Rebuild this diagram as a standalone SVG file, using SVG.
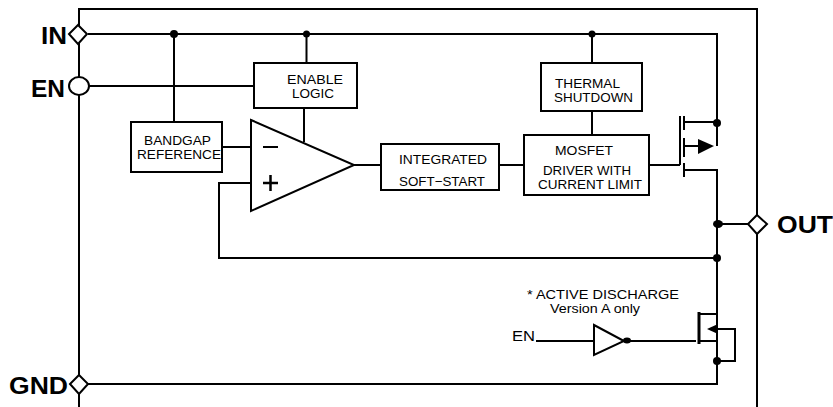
<svg xmlns="http://www.w3.org/2000/svg" width="833" height="407" viewBox="0 0 833 407">
<style>
.w{fill:none;stroke:#000;stroke-width:2}
.b{fill:#fff;stroke:#000;stroke-width:2}
.p{fill:#fff;stroke:#000;stroke-width:2}
.d{fill:#000;stroke:none}
text{font-family:"Liberation Sans",Arial,sans-serif;fill:#000}
.t{font-size:13px}
.l{font-size:24px;font-weight:bold}
</style>
<rect width="833" height="407" fill="#fff"/>
<g id="connectors">
<path class="w" d="M79 407V9H757V407"/>
<path class="w" d="M88 34H717V146"/>
<path class="w" d="M89 86H254"/>
<path class="w" d="M174 34V122M306.500 34V63M304 108V142M222 147H251M251 183H219V258H717"/>
<path class="w" d="M354 165H381M499 165H524M592 34V63M592 111V135M649 165H680"/>
<path class="w" d="M680 116V165M684 116V130M684 138V157M684 163V177M684 122H717M684 146H703M684 170H717V384H88"/>
<path class="w" d="M717 224H748"/>
<path class="w" d="M536 341H594M624 341H696M717 314H699M699 341H717M712 329H735V361H717"/>
<path d="M699 312V344" fill="none" stroke="#000" stroke-width="3"/>
<path class="d" d="M698 139L714 146L698 154Z"/>
<path class="d" d="M707 329L718 324V334Z"/>
<circle class="d" cx="174" cy="34" r="4"/>
<circle class="d" cx="306.500" cy="34" r="3.500"/>
<circle class="d" cx="592" cy="34" r="3.500"/>
<circle class="d" cx="717" cy="123" r="4"/>
<ellipse class="d" cx="718" cy="224" rx="5" ry="4"/>
<circle class="d" cx="717" cy="258" r="4"/>
<circle class="d" cx="717" cy="361" r="4"/>
<ellipse class="d" cx="627" cy="340.500" rx="4" ry="3"/>
</g>
<g id="pin-in"><path class="p" d="M78 25L87 34L78 44L69 34Z"/><text class="l" x="41" y="44" textLength="26" lengthAdjust="spacingAndGlyphs">IN</text></g>
<g id="pin-en"><ellipse class="p" cx="79" cy="86" rx="10" ry="9"/><text class="l" x="31" y="97" textLength="34" lengthAdjust="spacingAndGlyphs">EN</text></g>
<g id="pin-out"><path class="p" d="M757 215L767 224L757 234L748 224Z"/><text class="l" x="777" y="233" textLength="56" lengthAdjust="spacingAndGlyphs">OUT</text></g>
<g id="pin-gnd"><path class="p" d="M79 375L88 384L79 394L70 384Z"/><text class="l" x="9" y="394" textLength="59" lengthAdjust="spacingAndGlyphs">GND</text></g>
<g id="enable-logic"><rect class="b" x="254" y="63" width="103" height="45"/><text class="t" x="287" y="84" textLength="56" lengthAdjust="spacingAndGlyphs">ENABLE</text><text class="t" x="292" y="98" textLength="42" lengthAdjust="spacingAndGlyphs">LOGIC</text></g>
<g id="bandgap"><rect class="b" x="131" y="122" width="91" height="50"/><text class="t" x="144" y="145" textLength="67" lengthAdjust="spacingAndGlyphs">BANDGAP</text><text class="t" x="137" y="159" textLength="84" lengthAdjust="spacingAndGlyphs">REFERENCE</text></g>
<g id="amplifier"><path class="p" d="M251 120L354 165L251 211Z"/><path class="w" d="M263 147H278"/><path d="M263 183H278M270.500 175V191" fill="none" stroke="#000" stroke-width="2.500"/></g>
<g id="soft-start"><rect class="b" x="381" y="144" width="118" height="46"/><text class="t" x="399" y="164" textLength="88" lengthAdjust="spacingAndGlyphs">INTEGRATED</text><text class="t" x="399" y="186" textLength="86" lengthAdjust="spacingAndGlyphs">SOFT−START</text></g>
<g id="thermal"><rect class="b" x="541" y="63" width="101" height="48"/><text class="t" x="555" y="88" textLength="65" lengthAdjust="spacingAndGlyphs">THERMAL</text><text class="t" x="554" y="102" textLength="79" lengthAdjust="spacingAndGlyphs">SHUTDOWN</text></g>
<g id="driver"><rect class="b" x="524" y="135" width="125" height="60"/><text class="t" x="555" y="155" textLength="58" lengthAdjust="spacingAndGlyphs">MOSFET</text><text class="t" x="543" y="175" textLength="88" lengthAdjust="spacingAndGlyphs">DRIVER WITH</text><text class="t" x="538" y="189" textLength="104" lengthAdjust="spacingAndGlyphs">CURRENT LIMIT</text></g>
<g id="buffer"><path class="p" d="M594 325L624 341L594 355Z"/></g>
<g id="discharge-note"><text class="t" x="527" y="299" textLength="152" lengthAdjust="spacingAndGlyphs">* ACTIVE DISCHARGE</text><text x="550" y="313" font-size="12.500" textLength="90" lengthAdjust="spacingAndGlyphs">Version A only</text><text x="512" y="341" font-size="15" textLength="23" lengthAdjust="spacingAndGlyphs">EN</text></g>
</svg>
